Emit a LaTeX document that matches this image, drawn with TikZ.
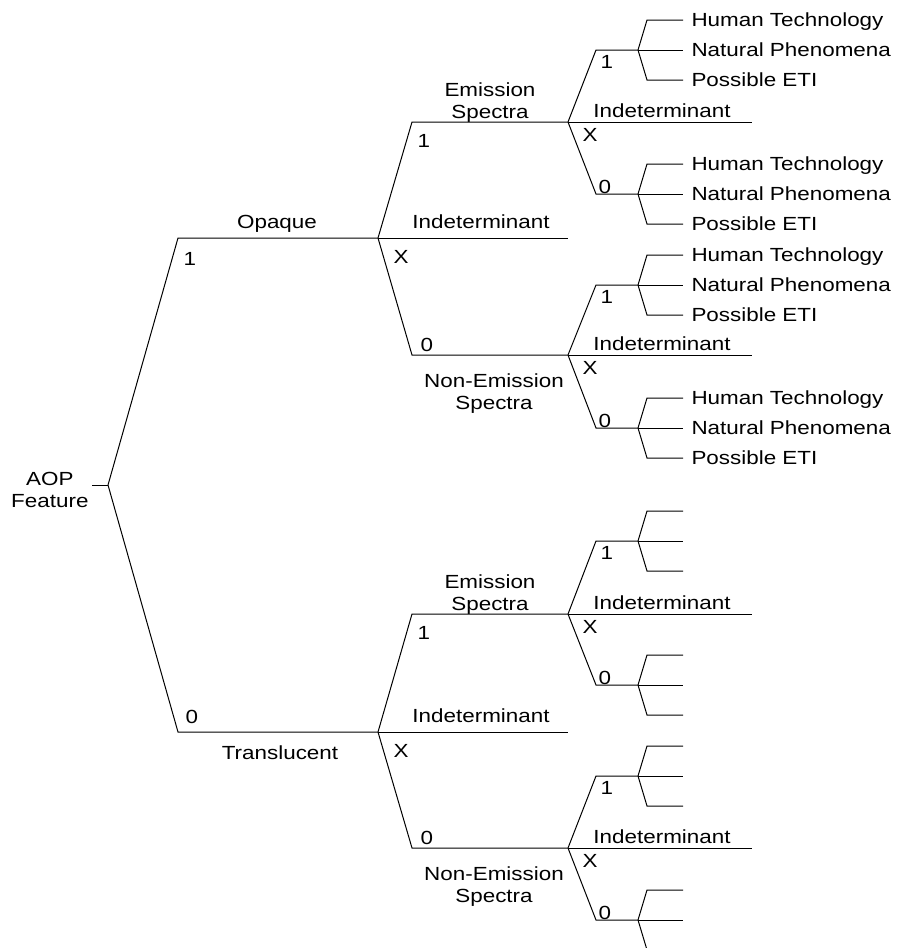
\documentclass[tikz,border=0pt]{standalone}
\usepackage{fontspec}
\setmainfont[FakeStretch=1.18]{Liberation Sans}
\usetikzlibrary{positioning}
\begin{document}
\begin{tikzpicture}[x=1pt, y=-1pt, line width=1pt,
    every node/.style={inner sep=0pt, font=\fontsize{19}{22.5}\selectfont},
    twoline/.style={align=center},
    tag/.style={anchor=base west},
    leaf/.style={anchor=base west}]
  \useasboundingbox (0,0) rectangle (903,948);

  % root
  \coordinate (aop-in) at (92,485);
  \coordinate (aop) at (108,485);
  \node[twoline, anchor=east] (aop-lbl) at (89,490) {AOP\\Feature};
  \draw (aop-in) -- (aop);

  % opaque / translucent
  \coordinate (opq-c) at (178,238);
  \coordinate (opq) at (378,238);
  \coordinate (trl-c) at (178,732);
  \coordinate (trl) at (378,732);
  \draw (aop) -- (opq-c) -- (opq);
  \draw (aop) -- (trl-c) -- (trl);
  \node[anchor=base] (opq-lbl) at (277,228) {Opaque};
  \node[tag] (opq-t) at (183,265) {1};
  \node[anchor=base] (trl-lbl) at (280,759) {Translucent};
  \node[tag] (trl-t) at (185,723) {0};

  % spectra
  \foreach \f/\y/\u/\d in {opq/238/122/355, trl/732/614/848} {
    \coordinate (\f-ec) at (412,\u);
    \coordinate (\f-e) at (568,\u);
    \coordinate (\f-x) at (568,\y);
    \coordinate (\f-nc) at (412,\d);
    \coordinate (\f-n) at (568,\d);
    \draw (\f) -- (\f-ec) -- (\f-e);
    \draw (\f) -- (\f-x);
    \draw (\f) -- (\f-nc) -- (\f-n);
    \node[twoline, anchor=south] (\f-el) at (490,\u+1) {Emission\\Spectra};
    \node[anchor=base] (\f-xl) at (481,\y-10) {Indeterminant};
    \node[twoline, anchor=north] (\f-nl) at (494,\d+18) {Non-Emission\\Spectra};
    \node[tag] (\f-et) at (417,\u+25) {1};
    \node[tag] (\f-xt) at (393,\y+25) {X};
    \node[tag] (\f-nt) at (420,\d-4) {0};
  }

  % third split
  \foreach \f/\y/\u/\d in {opq-e/122/50/194, opq-n/355/285/428,
                           trl-e/614/541/685, trl-n/848/776/920} {
    \coordinate (\f-1c) at (596,\u);
    \coordinate (\f-1) at (638,\u);
    \coordinate (\f-x) at (752,\y);
    \coordinate (\f-0c) at (596,\d);
    \coordinate (\f-0) at (638,\d);
    \draw (\f) -- (\f-1c) -- (\f-1);
    \draw (\f) -- (\f-x);
    \draw (\f) -- (\f-0c) -- (\f-0);
    \node[anchor=base] (\f-xl) at (662,\y-5) {Indeterminant};
    \node[tag] (\f-1t) at (600,\u+18) {1};
    \node[tag] (\f-xt) at (582,\y+19) {X};
    \node[tag] (\f-0t) at (598,\d-1) {0};
  }

  % leaves
  \foreach \g/\lab in {opq-e-1/1, opq-e-0/1, opq-n-1/1, opq-n-0/1,
                       trl-e-1/0, trl-e-0/0, trl-n-1/0, trl-n-0/0} {
    \coordinate (\g-hc) at ([shift={(9,-30)}]\g);
    \coordinate (\g-h) at ([shift={(45,-30)}]\g);
    \coordinate (\g-n) at ([shift={(45,0)}]\g);
    \coordinate (\g-pc) at ([shift={(9,30)}]\g);
    \coordinate (\g-p) at ([shift={(45,30)}]\g);
    \draw (\g) -- (\g-hc) -- (\g-h);
    \draw (\g) -- (\g-n);
    \draw (\g) -- (\g-pc) -- (\g-p);
    \ifnum\lab=1
      \node[leaf] (\g-hl) at ([shift={(8,6)}]\g-h) {Human Technology};
      \node[leaf] (\g-nl) at ([shift={(8,6)}]\g-n) {Natural Phenomena};
      \node[leaf] (\g-pl) at ([shift={(8,6)}]\g-p) {Possible ETI};
    \fi
  }
\end{tikzpicture}
\end{document}
